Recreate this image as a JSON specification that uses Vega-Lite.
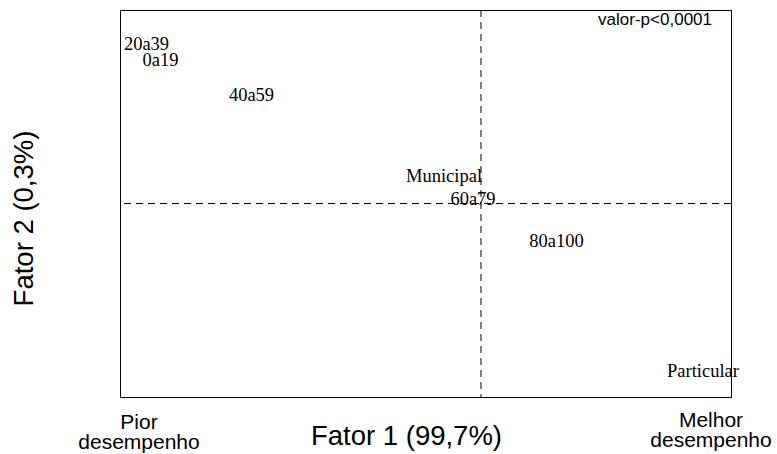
{
  "$schema": "https://vega.github.io/schema/vega-lite/v6.json",
  "width": 611,
  "height": 387,
  "autosize": {"type": "none"},
  "padding": {"left": 120, "top": 10, "right": 46, "bottom": 57},
  "background": "white",
  "config": {
    "view": {"stroke": "black", "strokeWidth": 1},
    "axis": {
      "ticks": false, "labels": false, "domain": false, "grid": false,
      "titleFont": "Liberation Sans", "titleFontSize": 27.5, "titleFontWeight": "normal", "titleColor": "black"
    },
    "axisX": {"titleX": 286, "titleY": 47, "titleAlign": "center", "titleBaseline": "alphabetic"},
    "axisY": {"titleX": -88, "titleY": 208, "titleAngle": 270, "titleAlign": "center", "titleBaseline": "alphabetic"}
  },
  "layer": [
    {
      "data": {"values": [{"x": 0}]},
      "mark": {"type": "rule", "color": "black", "strokeWidth": 1, "strokeDash": [7, 5]},
      "encoding": {
        "x": {"field": "x", "type": "quantitative", "scale": {"domain": [-3.61, 2.5], "nice": false, "zero": false}, "axis": {"title": "Fator 1 (99,7%)"}}
      }
    },
    {
      "data": {"values": [{"y": 0}]},
      "mark": {"type": "rule", "color": "black", "strokeWidth": 1, "strokeDash": [7, 5]},
      "encoding": {
        "y": {"field": "y", "type": "quantitative", "scale": {"domain": [-1.935, 1.935], "nice": false, "zero": false}, "axis": {"title": "Fator 2 (0,3%)"}}
      }
    },
    {
      "data": {"values": [
        {"label": "20a39", "x": -3.345, "y": 1.535},
        {"label": "0a19", "x": -3.205, "y": 1.378},
        {"label": "40a59", "x": -2.295, "y": 1.028},
        {"label": "Municipal", "x": -0.37, "y": 0.218},
        {"label": "60a79", "x": -0.08, "y": -0.015},
        {"label": "80a100", "x": 0.755, "y": -0.435},
        {"label": "Particular", "x": 2.22, "y": -1.732}
      ]},
      "mark": {"type": "text", "font": "Liberation Serif", "fontSize": 18.5, "color": "black", "align": "center", "baseline": "alphabetic"},
      "encoding": {
        "x": {"field": "x", "type": "quantitative", "axis": {"title": "Fator 1 (99,7%)"}},
        "y": {"field": "y", "type": "quantitative", "axis": {"title": "Fator 2 (0,3%)"}},
        "text": {"field": "label"}
      }
    },
    {
      "data": {"values": [{"label": "valor-p<0,0001", "x": 2.31, "y": 1.785}]},
      "mark": {"type": "text", "font": "Liberation Sans", "fontSize": 17, "color": "black", "align": "right", "baseline": "alphabetic"},
      "encoding": {
        "x": {"field": "x", "type": "quantitative", "axis": {"title": "Fator 1 (99,7%)"}},
        "y": {"field": "y", "type": "quantitative", "axis": {"title": "Fator 2 (0,3%)"}},
        "text": {"field": "label"}
      }
    },
    {
      "data": {"values": [
        {"label": "Pior\ndesempenho", "x": -3.42, "y": -2.255},
        {"label": "Melhor\ndesempenho", "x": 2.3, "y": -2.235}
      ]},
      "mark": {"type": "text", "font": "Liberation Sans", "fontSize": 21, "color": "black", "align": "center", "baseline": "alphabetic", "lineBreak": "\n", "lineHeight": 20},
      "encoding": {
        "x": {"field": "x", "type": "quantitative", "axis": {"title": "Fator 1 (99,7%)"}},
        "y": {"field": "y", "type": "quantitative", "axis": {"title": "Fator 2 (0,3%)"}},
        "text": {"field": "label"}
      }
    }
  ]
}
